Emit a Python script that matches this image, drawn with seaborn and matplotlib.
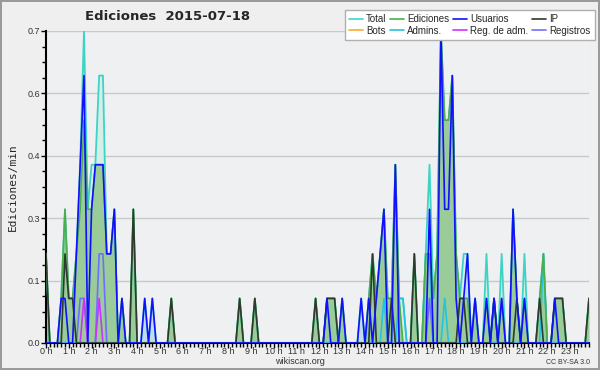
import numpy as np
import matplotlib
matplotlib.use("Agg")
import matplotlib.pyplot as plt
from matplotlib.lines import Line2D
import seaborn as sns

# ── Data: 10-minute bins over the day (0..143), values in edits/min ──
n_bins = 144
hour_labels = [f"{h} h" for h in range(24)]
y_ticks = [0.0, 0.14, 0.28, 0.42, 0.56, 0.70]
y_labels = ["0.0", "0.1", "0.3", "0.4", "0.6", "0.7"]

# only the non-zero bins are listed, everything else is 0
total_bins = [0, 4, 5, 6, 7, 8, 9, 10, 11, 12, 13, 14, 15, 16, 17, 18, 20, 23,
              26, 28, 33, 51, 55, 71, 74, 75, 76, 78, 83, 85, 86, 87, 88, 89, 90,
              91, 92, 93, 94, 97, 100, 101, 102, 103, 104, 105, 106, 107, 108,
              109, 110, 111, 113, 116, 118, 120, 123, 124, 126, 130, 131, 134,
              135, 136, 143]
total_vals = [0.2, 0.1, 0.3, 0.1, 0.1, 0.2, 0.4, 0.7, 0.3, 0.4, 0.4, 0.6, 0.6, 0.2, 0.2, 0.3, 0.1, 0.3,
              0.1, 0.1, 0.1, 0.1, 0.1, 0.1, 0.1, 0.1, 0.1, 0.1, 0.1, 0.1, 0.2, 0.1, 0.2, 0.3, 0.1,
              0.1, 0.4, 0.1, 0.1, 0.2, 0.2, 0.4, 0.1, 0.2, 0.7, 0.5, 0.5, 0.6, 0.2,
              0.1, 0.2, 0.2, 0.1, 0.2, 0.1, 0.2, 0.3, 0.1, 0.2, 0.1, 0.2, 0.1,
              0.1, 0.1, 0.1]

ed_bins = [0, 4, 5, 6, 7, 8, 9, 10, 11, 12, 13, 14, 15, 16, 17, 18, 20, 23,
           33, 51, 55, 71, 74, 75, 76, 78, 85, 86, 87, 88, 89, 90, 91, 92, 93,
           97, 100, 101, 102, 103, 104, 105, 106, 107, 108, 109, 110, 111, 113,
           116, 118, 120, 123, 124, 126, 130, 131, 134, 135, 136, 143]
ed_vals = [0.2, 0.1, 0.3, 0.1, 0.1, 0.2, 0.3, 0.5, 0.3, 0.3, 0.4, 0.4, 0.4, 0.2, 0.2, 0.3, 0.1, 0.3,
           0.1, 0.1, 0.1, 0.1, 0.1, 0.1, 0.1, 0.1, 0.1, 0.2, 0.1, 0.2, 0.3, 0.1, 0.1, 0.4, 0.1,
           0.2, 0.2, 0.2, 0.1, 0.2, 0.7, 0.5, 0.5, 0.6, 0.2, 0.1, 0.1, 0.1, 0.1,
           0.1, 0.1, 0.1, 0.3, 0.1, 0.1, 0.1, 0.2, 0.1, 0.1, 0.1, 0.1]

us_bins = [4, 5, 8, 9, 10, 12, 13, 14, 15, 16, 17, 18, 20, 26, 28, 74, 78, 83, 85,
           87, 88, 89, 92, 101, 104, 105, 106, 107, 108, 110, 111, 113, 116, 118,
           120, 123, 124, 126, 134]
us_vals = [0.1, 0.1, 0.2, 0.4, 0.6, 0.3, 0.4, 0.4, 0.4, 0.2, 0.2, 0.3, 0.1, 0.1, 0.1, 0.1, 0.1, 0.1, 0.1,
           0.1, 0.2, 0.3, 0.4, 0.3, 0.7, 0.3, 0.3, 0.6, 0.1, 0.1, 0.2, 0.1, 0.1, 0.1,
           0.1, 0.3, 0.1, 0.1, 0.1]

ip_bins = [0, 5, 6, 7, 23, 33, 51, 55, 71, 74, 75, 76, 86, 91, 97, 109, 110, 118,
           124, 130, 134, 135, 136, 143]
ip_vals = [0.2, 0.2, 0.1, 0.1, 0.3, 0.1, 0.1, 0.1, 0.1, 0.1, 0.1, 0.1, 0.2, 0.1, 0.2, 0.1, 0.1, 0.1,
           0.1, 0.1, 0.1, 0.1, 0.1, 0.1]

adm_bins = [89, 93, 94, 100, 101, 105, 131]
adm_vals = [0.1, 0.1, 0.1, 0.2, 0.2, 0.1, 0.2]

regadm_bins = [10, 14]
regadm_vals = [0.1, 0.1]

reg_bins = [9, 10, 14, 15, 101]
reg_vals = [0.1, 0.1, 0.2, 0.2, 0.1]


def full(bins, vals):
    s = np.zeros(n_bins)
    s[bins] = vals
    return s


x = np.arange(n_bins)
total = full(total_bins, total_vals)
ed = full(ed_bins, ed_vals)
us = full(us_bins, us_vals)
ip = full(ip_bins, ip_vals)
adm = full(adm_bins, adm_vals)
regadm = full(regadm_bins, regadm_vals)
reg = full(reg_bins, reg_vals)

# ── Colours ──
c_total, c_ed, c_us, c_ip = "#3fd3c6", "#4cae4c", "#1010ff", "#2e3a2e"
c_bots, c_adm, c_regadm, c_reg = "#ffa833", "#22c4e0", "#cc33ff", "#6f6fff"

sns.set_theme(style="white")
plt.rcParams["font.family"] = ["Liberation Sans", "DejaVu Sans"]

fig = plt.figure(figsize=(6, 3.7), dpi=100, facecolor="#efefef")
fig.patch.set_edgecolor("#9a9a9a")
fig.patch.set_linewidth(1.5)
ax = fig.add_axes([46 / 600, 1 - 343 / 370, 543 / 600, 312 / 370])
ax.set_facecolor("#eef0f2")

ax.yaxis.grid(True, color="#c9c9c9", lw=1)
ax.set_axisbelow(True)

# fills
ax.fill_between(x, total, color="#d5efe8", lw=0, zorder=2)
ax.fill_between(x, us, color="#c2dbef", lw=0, zorder=2)
ax.fill_between(x, ed, color="#99cc99", lw=0, zorder=2)

# lines
for ser, col, lw in [(total, c_total, 1.3), (reg, c_reg, 1.2), (regadm, c_regadm, 1.2),
                     (adm, c_adm, 1.2), (ed, c_ed, 1.2), (ip, c_ip, 1.2), (us, c_us, 1.2)]:
    sns.lineplot(x=x, y=ser, color=col, lw=lw, ax=ax, zorder=3)

ax.set_xlim(0, n_bins - 1)
ax.set_ylim(0, 0.7)
ax.set_xticks(range(0, n_bins, 6))
ax.set_xticklabels(hour_labels)
ax.set_xticks(range(n_bins), minor=True)
ax.set_yticks(y_ticks)
ax.set_yticklabels(y_labels)
ax.set_yticks(np.arange(0, 0.7001, 0.035), minor=True)
ax.tick_params(axis="both", which="major", direction="out", length=3.5, width=1,
               labelsize=6.5, labelcolor="#333333", color="black", pad=0.5, bottom=True, left=True)
ax.tick_params(axis="both", which="minor", direction="out", length=3, width=1,
               color="black", bottom=True, left=True)
ax.tick_params(axis="x", which="major", pad=-0.5)
for s in ["top", "right"]:
    ax.spines[s].set_visible(False)
for s in ["left", "bottom"]:
    ax.spines[s].set_color("black")
    ax.spines[s].set_linewidth(1.5)
ax.set_xlabel("")
ax.set_ylabel("Ediciones/min", fontsize=8, family="DejaVu Sans Mono", labelpad=7)

fig.text(85 / 600, 1 - 17 / 370, "Ediciones  2015-07-18", fontsize=9.5,
         fontweight="bold", va="center", ha="left", family=["DejaVu Sans"])
fig.text(300 / 600, 1 - 362 / 370, "wikiscan.org", fontsize=6.5, color="#333333",
         ha="center", va="center")
fig.text(590 / 600, 1 - 362 / 370, "CC BY-SA 3.0", fontsize=5, color="#333333",
         ha="right", va="center")

# legend (column-major order for 2 rows x 4 cols)
names = ["Total", "Bots", "Ediciones", "Admins.", "Usuarios", "Reg. de adm.", "IP", "Registros"]
cols = [c_total, c_bots, c_ed, c_adm, c_us, c_regadm, c_ip, c_reg]
handles = [Line2D([0], [0], color=c, lw=1.2) for c in cols]
leg = fig.legend(handles, names, ncol=4, loc="upper right",
                 bbox_to_anchor=(595 / 600, 1 - 10 / 370), fontsize=7, frameon=True,
                 fancybox=False, edgecolor="#b0b0b0", handlelength=1.4,
                 columnspacing=0.4, handletextpad=0.35, borderpad=0.45,
                 labelspacing=0.15, borderaxespad=0)
leg.get_frame().set_facecolor("white")
leg.get_frame().set_alpha(1)

fig.savefig("out.png", dpi=100, facecolor=fig.get_facecolor(), edgecolor=fig.get_edgecolor())
